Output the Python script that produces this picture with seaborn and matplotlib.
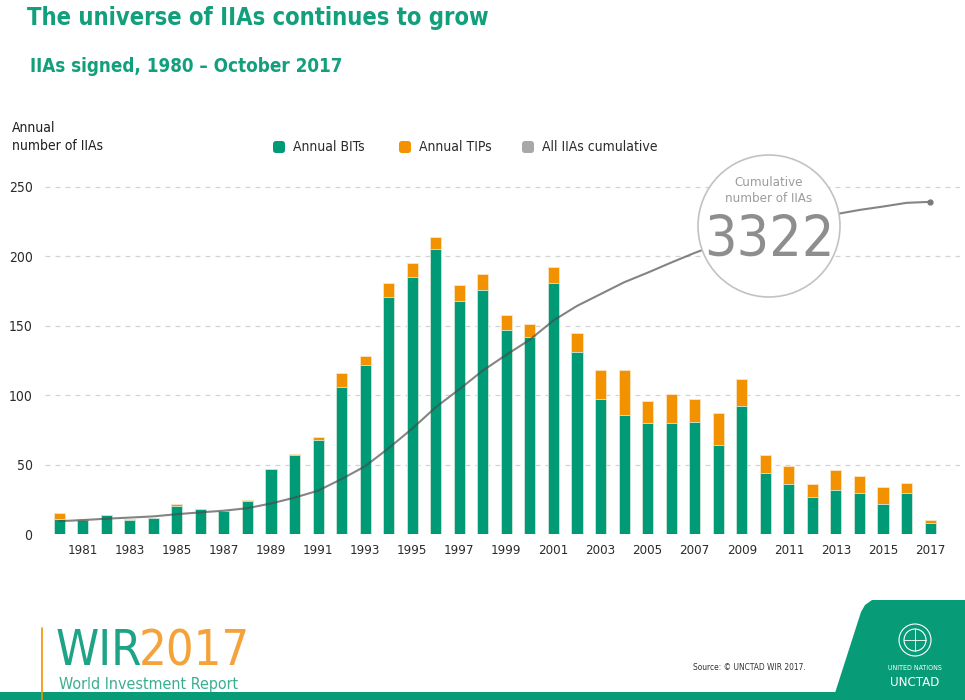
import numpy as np
import pandas as pd
import matplotlib
matplotlib.use("Agg")
import matplotlib.pyplot as plt
from matplotlib.patches import Rectangle, Ellipse, Polygon, FancyBboxPatch
import seaborn as sns

# ---- data -------------------------------------------------------------
years = list(range(1980, 2018))
annual_bits = [11, 10, 14, 10, 12, 20, 18, 17, 24, 47,
               57, 68, 106, 122, 171, 185, 205, 168, 176, 147,
               142, 181, 131, 97, 86, 80, 80, 81, 64, 92,
               44, 36, 27, 32, 30, 22, 30, 8]
annual_tips = [4, 1, 0, 1, 0, 2, 0, 0, 1, 0,
               1, 2, 10, 6, 10, 10, 9, 11, 11, 11,
               9, 11, 14, 21, 32, 16, 21, 16, 23, 20,
               13, 13, 9, 14, 12, 12, 7, 2]
pre_1980_stock = 116
y_ticks = [0, 50, 100, 150, 200, 250]
x_tick_years = list(range(1981, 2018, 2))

df = pd.DataFrame({"year": [str(y) for y in years],
                   "bits": annual_bits, "tips": annual_tips})
df["total"] = df["bits"] + df["tips"]
df["cumulative"] = pre_1980_stock + df["total"].cumsum()
df["pos"] = np.arange(len(df))

GREEN = "#009B76"
TITLE_GREEN = "#12A07C"
ORANGE = "#F39200"
GREY = "#A8A8A8"
TEXT = "#2b2b2b"

sns.set_style("white")
plt.rcParams["font.family"] = ["DejaVu Sans Condensed", "DejaVu Sans"]
plt.rcParams["font.stretch"] = "condensed"

W, H = 965, 700
fig = plt.figure(figsize=(W / 100, H / 100), dpi=100)


def fx(px):
    return px / W


def fy(py):
    return 1 - py / H


# ---- main axes ---------------------------------------------------------
y_base, px_per_unit = 534.3, 1.39
ymax = 252
ax = fig.add_axes([fx(45), fy(y_base), 915 / W, ymax * px_per_unit / H])

order = df["year"].tolist()
sns.barplot(data=df, x="year", y="total", order=order, color=ORANGE,
            saturation=1, width=0.47, edgecolor="#fbe3c0", linewidth=0.6,
            ax=ax, zorder=3)
sns.barplot(data=df, x="year", y="bits", order=order, color=GREEN,
            saturation=1, width=0.47, edgecolor="#cfeadf", linewidth=0.6,
            ax=ax, zorder=3)

ax.set_xlim(-0.6, 38.27)
ax.set_ylim(0, ymax)
ax.set_yticks(y_ticks)
ax.set_yticklabels([str(v) for v in y_ticks], fontsize=10, color=TEXT)
ax.set_xticks([years.index(y) for y in x_tick_years])
ax.set_xticklabels([str(y) for y in x_tick_years], fontsize=9.5, color=TEXT)
ax.tick_params(axis="both", length=0)
ax.tick_params(axis="y", pad=9)
ax.tick_params(axis="x", pad=7)
ax.set_xlabel("")
ax.set_ylabel("")
for s in ax.spines.values():
    s.set_visible(False)
for v in y_ticks[1:]:
    ax.axhline(v, color="#d3d3d3", lw=0.9, ls=(0, (4, 4)), zorder=1)

# ---- cumulative line on its own scale ---------------------------------
ax2 = ax.twinx()
sns.lineplot(data=df, x="pos", y="cumulative", color="#4a4a4a", alpha=0.68,
             lw=1.5, ax=ax2, zorder=4)
ax2.plot(df["pos"].iloc[-1], df["cumulative"].iloc[-1], "o", ms=3.5,
         color="#7a7a7a", zorder=5)
ax2.set_ylim(0, 3500)
ax2.set_xlim(ax.get_xlim())
ax2.set_yticks([])
ax2.set_ylabel("")
ax2.set_xlabel("")
for s in ax2.spines.values():
    s.set_visible(False)

# ---- cumulative badge --------------------------------------------------
cx, cy, r = 769, 226, 71
fig.add_artist(Ellipse((fx(cx), fy(cy)), 2 * r / W, 2 * r / H,
                       transform=fig.transFigure, facecolor="white",
                       edgecolor="#c2c2c2", lw=1.2, zorder=5))
fig.text(fx(cx), fy(183), "Cumulative", ha="center", va="center",
         fontsize=9.5, color="#9c9c9c", zorder=6)
fig.text(fx(cx), fy(199), "number of IIAs", ha="center", va="center",
         fontsize=9.5, color="#9c9c9c", zorder=6)
fig.text(fx(cx), fy(241), f"{int(df['cumulative'].iloc[-1])}", ha="center",
         va="center", fontsize=41, color="#8e8e8e", zorder=6,
         fontweight="light")

# ---- titles ------------------------------------------------------------
fig.text(fx(27), fy(18), "The universe of IIAs continues to grow",
         ha="left", va="center", fontsize=17, fontweight="bold",
         color=TITLE_GREEN)
fig.text(fx(30), fy(67), "IIAs signed, 1980 \u2013 October 2017",
         ha="left", va="center", fontsize=13.5, fontweight="bold",
         color=TITLE_GREEN)
fig.text(fx(12), fy(137), "Annual\nnumber of IIAs", ha="left", va="center",
         fontsize=10, color="#1f1f1f", linespacing=1.3)

# ---- legend ------------------------------------------------------------
legend_items = [("Annual BITs", GREEN, 273), ("Annual TIPs", ORANGE, 399),
                ("All IIAs cumulative", GREY, 522)]
for label, colour, x0 in legend_items:
    fig.add_artist(FancyBboxPatch((fx(x0), fy(153)), 12 / W, 12 / H,
                                  boxstyle="round,pad=0,rounding_size=0.003",
                                  mutation_aspect=W / H,
                                  transform=fig.transFigure,
                                  facecolor=colour, edgecolor="none"))
    fig.text(fx(x0 + 20), fy(147), label, ha="left", va="center",
             fontsize=10, color=TEXT)

# ---- footer ------------------------------------------------------------
fig.add_artist(Rectangle((0, 0), 1, 8 / H, transform=fig.transFigure,
                         facecolor="#079B77", edgecolor="none", zorder=2))
fig.add_artist(plt.Line2D([fx(42), fx(42)], [fy(628), fy(700)],
                          transform=fig.transFigure, color=ORANGE, lw=1.2,
                          zorder=3))
fig.text(fx(56), fy(665), "WIR", ha="left", va="baseline", fontsize=35,
         color="#1FA386", fontweight="light")
fig.text(fx(139), fy(665), "2017", ha="left", va="baseline", fontsize=35,
         color="#F4A23A", fontweight="light")
fig.text(fx(59), fy(684), "World Investment Report", ha="left", va="center",
         fontsize=11.5, color="#3aae92")
fig.text(fx(693), fy(667), "Source: \u00a9 UNCTAD WIR 2017.", ha="left",
         va="center", fontsize=6, color="#333333")

panel = [(835, 693), (861, 612), (865, 605), (872, 600), (965, 600),
         (965, 693)]
fig.add_artist(Polygon([(fx(x), fy(y)) for x, y in panel], closed=True,
                       transform=fig.transFigure, facecolor="#079B77",
                       edgecolor="none", zorder=2))
# emblem
ex, ey = 915, 640
for rad in (16, 11):
    fig.add_artist(Ellipse((fx(ex), fy(ey)), 2 * rad / W, 2 * rad / H,
                           transform=fig.transFigure, facecolor="none",
                           edgecolor="white", lw=0.8, zorder=3))
for dx, dy in [((-11, 11), (0, 0)), ((0, 0), (-11, 11))]:
    fig.add_artist(plt.Line2D([fx(ex + dx[0]), fx(ex + dx[1])],
                              [fy(ey + dy[0]), fy(ey + dy[1])],
                              transform=fig.transFigure, color="white",
                              lw=0.6, zorder=3))
fig.text(fx(ex), fy(668), "UNITED NATIONS", ha="center", va="center",
         fontsize=5, color="white")
fig.text(fx(ex), fy(682), "UNCTAD", ha="center", va="center",
         fontsize=9.5, color="white")

fig.savefig("out.png", dpi=100, facecolor="white")
